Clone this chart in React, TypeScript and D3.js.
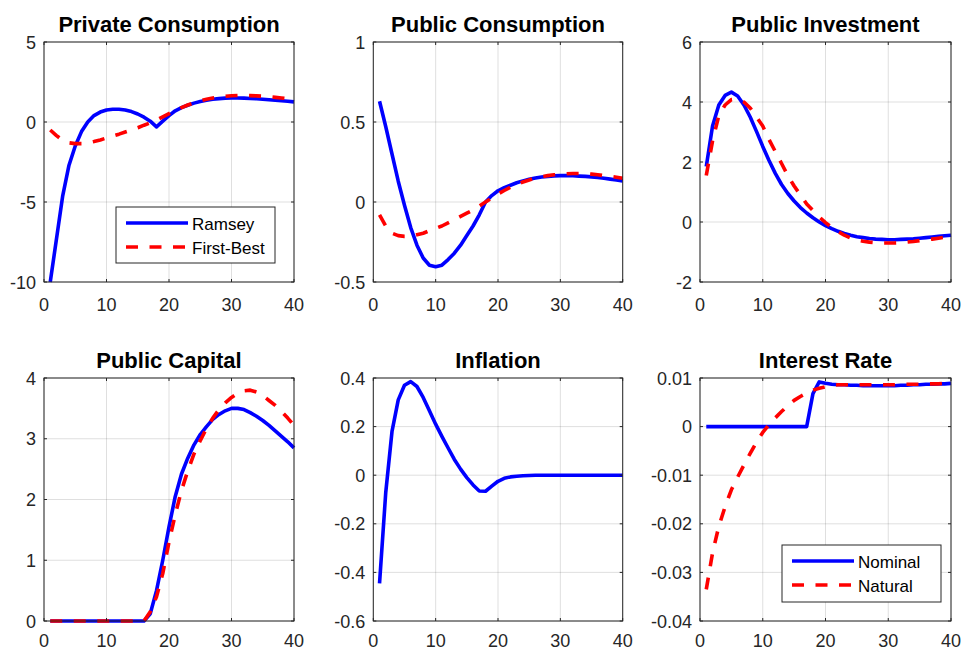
import React from 'react';
import * as d3 from 'd3';

// Horizon (quarters 1..40)
const periods = d3.range(1, 41);

// Private Consumption
const privRamsey = [-10.0, -7.3, -4.6, -2.7, -1.5, -0.6, 0.0, 0.4, 0.62, 0.75, 0.8, 0.8, 0.75, 0.65, 0.5, 0.3, 0.05, -0.3, 0.05, 0.4, 0.7, 0.9, 1.05, 1.18, 1.28, 1.36, 1.42, 1.46, 1.49, 1.5, 1.5, 1.49, 1.47, 1.45, 1.42, 1.39, 1.36, 1.33, 1.3, 1.26];
const privFirstBest = [-0.5, -0.85, -1.15, -1.3, -1.35, -1.35, -1.3, -1.22, -1.12, -1.0, -0.88, -0.76, -0.63, -0.5, -0.36, -0.2, -0.05, 0.12, 0.32, 0.52, 0.72, 0.9, 1.06, 1.2, 1.32, 1.42, 1.5, 1.56, 1.61, 1.64, 1.66, 1.66, 1.65, 1.63, 1.61, 1.58, 1.54, 1.5, 1.46, 1.42];

// Public Consumption
const pubConsRamsey = [0.63, 0.47, 0.3, 0.13, -0.02, -0.16, -0.27, -0.35, -0.395, -0.405, -0.395, -0.36, -0.32, -0.27, -0.21, -0.15, -0.08, 0.0, 0.04, 0.07, 0.09, 0.105, 0.12, 0.132, 0.142, 0.15, 0.156, 0.16, 0.163, 0.165, 0.165, 0.164, 0.162, 0.16, 0.157, 0.153, 0.148, 0.143, 0.138, 0.132];
const pubConsFirstBest = [-0.08, -0.15, -0.195, -0.21, -0.215, -0.215, -0.205, -0.195, -0.18, -0.165, -0.15, -0.13, -0.11, -0.09, -0.07, -0.05, -0.025, 0.0, 0.025, 0.05, 0.072, 0.092, 0.11, 0.125, 0.138, 0.149, 0.158, 0.165, 0.17, 0.174, 0.177, 0.178, 0.178, 0.177, 0.174, 0.17, 0.165, 0.16, 0.155, 0.148];

// Public Investment
const pubInvRamsey = [1.85, 3.2, 3.9, 4.22, 4.33, 4.2, 3.9, 3.5, 3.02, 2.52, 2.05, 1.62, 1.25, 0.95, 0.7, 0.48, 0.3, 0.14, 0.0, -0.12, -0.22, -0.31, -0.38, -0.44, -0.49, -0.52, -0.55, -0.57, -0.58, -0.59, -0.59, -0.58, -0.57, -0.56, -0.54, -0.52, -0.5, -0.48, -0.46, -0.44];
const pubInvFirstBest = [1.55, 2.7, 3.55, 3.9, 4.08, 4.1, 4.0, 3.8, 3.5, 3.2, 2.75, 2.35, 1.95, 1.55, 1.2, 0.9, 0.6, 0.38, 0.17, -0.02, -0.18, -0.32, -0.44, -0.53, -0.6, -0.64, -0.67, -0.69, -0.7, -0.7, -0.7, -0.69, -0.67, -0.65, -0.62, -0.6, -0.57, -0.54, -0.51, -0.48];

// Public Capital
const pubCapRamsey = [0, 0, 0, 0, 0, 0, 0, 0, 0, 0, 0, 0, 0, 0, 0, 0, 0.12, 0.5, 1.0, 1.55, 2.05, 2.42, 2.68, 2.9, 3.07, 3.2, 3.32, 3.4, 3.46, 3.5, 3.5, 3.48, 3.43, 3.37, 3.3, 3.22, 3.13, 3.04, 2.95, 2.85];
const pubCapFirstBest = [0, 0, 0, 0, 0, 0, 0, 0, 0, 0, 0, 0, 0, 0, 0, 0, 0.15, 0.4, 0.78, 1.3, 1.75, 2.15, 2.47, 2.75, 2.97, 3.17, 3.34, 3.48, 3.59, 3.68, 3.75, 3.79, 3.8, 3.77, 3.71, 3.63, 3.55, 3.45, 3.34, 3.22];

// Inflation
const inflation = [-0.445, -0.07, 0.18, 0.31, 0.37, 0.385, 0.365, 0.32, 0.265, 0.21, 0.16, 0.112, 0.065, 0.025, -0.01, -0.04, -0.065, -0.066, -0.045, -0.025, -0.013, -0.007, -0.004, -0.002, -0.001, 0, 0, 0, 0, 0, 0, 0, 0, 0, 0, 0, 0, 0, 0, 0];

// Interest Rate
const rateNominal = [0, 0, 0, 0, 0, 0, 0, 0, 0, 0, 0, 0, 0, 0, 0, 0, 0, 0.0068, 0.0092, 0.0089, 0.0087, 0.0086, 0.0086, 0.0085, 0.0085, 0.0084, 0.0084, 0.0084, 0.0084, 0.0084, 0.0084, 0.0085, 0.0085, 0.0086, 0.0086, 0.0087, 0.0087, 0.0088, 0.0088, 0.0089];
const rateNatural = [-0.0335, -0.026, -0.0205, -0.0165, -0.013, -0.0104, -0.0079, -0.0055, -0.0032, -0.0012, 0.0004, 0.0018, 0.0031, 0.0043, 0.0054, 0.0062, 0.0069, 0.0075, 0.0079, 0.0082, 0.0085, 0.0086, 0.0086, 0.0086, 0.0086, 0.0086, 0.0086, 0.0086, 0.0086, 0.0086, 0.0086, 0.0087, 0.0087, 0.0087, 0.0087, 0.0088, 0.0088, 0.0088, 0.0089, 0.0089];

// Ticks
const xTicks = [0, 10, 20, 30, 40];
const yTicksPrivCons = [-10, -5, 0, 5];
const yTicksPubCons = [-0.5, 0, 0.5, 1];
const yTicksPubInv = [-2, 0, 2, 4, 6];
const yTicksPubCap = [0, 1, 2, 3, 4];
const yTicksInfl = [-0.6, -0.4, -0.2, 0, 0.2, 0.4];
const yTicksRate = [-0.04, -0.03, -0.02, -0.01, 0, 0.01];

const titles = ['Private Consumption', 'Public Consumption', 'Public Investment', 'Public Capital', 'Inflation', 'Interest Rate'];

const BLUE = '#0000ff';
const RED = '#ff0000';
const FONT = '"Liberation Sans", Arial, Helvetica, sans-serif';
const AXIS = '#262626';

type Series = { values: number[]; color: string; dashed: boolean; name?: string };
type Panel = {
  title: string;
  yDomain: [number, number];
  yTicks: number[];
  series: Series[];
  frame: { l: number; t: number; r: number; b: number };
  labelOffset: number;
  legend?: { x: number; y: number; w: number; h: number };
};

const COLS = [[44, 294], [373.3, 622.7], [700, 951]];
const ROWS = [[42, 282], [378, 621]];
const LABEL_OFF = [29, 26];

const panels: Panel[] = [
  { title: titles[0], yDomain: [-10, 5], yTicks: yTicksPrivCons,
    series: [{ values: privRamsey, color: BLUE, dashed: false, name: 'Ramsey' }, { values: privFirstBest, color: RED, dashed: true, name: 'First-Best' }],
    frame: { l: COLS[0][0], r: COLS[0][1], t: ROWS[0][0], b: ROWS[0][1] }, labelOffset: LABEL_OFF[0],
    legend: { x: 72, y: 165, w: 159, h: 56 } },
  { title: titles[1], yDomain: [-0.5, 1], yTicks: yTicksPubCons,
    series: [{ values: pubConsRamsey, color: BLUE, dashed: false }, { values: pubConsFirstBest, color: RED, dashed: true }],
    frame: { l: COLS[1][0], r: COLS[1][1], t: ROWS[0][0], b: ROWS[0][1] }, labelOffset: LABEL_OFF[0] },
  { title: titles[2], yDomain: [-2, 6], yTicks: yTicksPubInv,
    series: [{ values: pubInvRamsey, color: BLUE, dashed: false }, { values: pubInvFirstBest, color: RED, dashed: true }],
    frame: { l: COLS[2][0], r: COLS[2][1], t: ROWS[0][0], b: ROWS[0][1] }, labelOffset: LABEL_OFF[0] },
  { title: titles[3], yDomain: [0, 4], yTicks: yTicksPubCap,
    series: [{ values: pubCapRamsey, color: BLUE, dashed: false }, { values: pubCapFirstBest, color: RED, dashed: true }],
    frame: { l: COLS[0][0], r: COLS[0][1], t: ROWS[1][0], b: ROWS[1][1] }, labelOffset: LABEL_OFF[1] },
  { title: titles[4], yDomain: [-0.6, 0.4], yTicks: yTicksInfl,
    series: [{ values: inflation, color: BLUE, dashed: false }],
    frame: { l: COLS[1][0], r: COLS[1][1], t: ROWS[1][0], b: ROWS[1][1] }, labelOffset: LABEL_OFF[1] },
  { title: titles[5], yDomain: [-0.04, 0.01], yTicks: yTicksRate,
    series: [{ values: rateNominal, color: BLUE, dashed: false, name: 'Nominal' }, { values: rateNatural, color: RED, dashed: true, name: 'Natural' }],
    frame: { l: COLS[2][0], r: COLS[2][1], t: ROWS[1][0], b: ROWS[1][1] }, labelOffset: LABEL_OFF[1],
    legend: { x: 82, y: 167, w: 159, h: 57 } },
];

const LW = 3.6;
const DASH = '12,11.5';

function PanelView({ p }: { p: Panel }) {
  const { l, t, r, b } = p.frame;
  const x = d3.scaleLinear().domain([0, 40]).range([l, r]);
  const y = d3.scaleLinear().domain(p.yDomain).range([b, t]);
  const line = d3.line<number>().x((_, i) => x(periods[i])).y((v) => y(v));
  const tk = 3;
  const fmt = (v: number) => String(v);
  return (
    <g>
      {xTicks.map((v) => (
        <line key={'gx' + v} x1={x(v)} x2={x(v)} y1={t} y2={b} stroke={AXIS} strokeOpacity={0.15} strokeWidth={1} />
      ))}
      {p.yTicks.map((v) => (
        <line key={'gy' + v} x1={l} x2={r} y1={y(v)} y2={y(v)} stroke={AXIS} strokeOpacity={0.15} strokeWidth={1} />
      ))}
      {p.series.map((s, i) => (
        <path key={'s' + i} d={line(s.values) || ''} fill="none" stroke={s.color} strokeWidth={LW}
          strokeDasharray={s.dashed ? DASH : undefined} strokeLinejoin="round" />
      ))}
      <rect x={l} y={t} width={r - l} height={b - t} fill="none" stroke={AXIS} strokeWidth={1} />
      {xTicks.map((v) => (
        <g key={'tx' + v}>
          <line x1={x(v)} x2={x(v)} y1={b} y2={b - tk} stroke={AXIS} />
          <line x1={x(v)} x2={x(v)} y1={t} y2={t + tk} stroke={AXIS} />
          <text x={x(v)} y={b + p.labelOffset} textAnchor="middle" fontSize={18} fill={AXIS} fontFamily={FONT}>{fmt(v)}</text>
        </g>
      ))}
      {p.yTicks.map((v) => (
        <g key={'ty' + v}>
          <line x1={l} x2={l + tk} y1={y(v)} y2={y(v)} stroke={AXIS} />
          <line x1={r} x2={r - tk} y1={y(v)} y2={y(v)} stroke={AXIS} />
          <text x={l - 8} y={y(v) + 6.5} textAnchor="end" fontSize={18} fill={AXIS} fontFamily={FONT}>{fmt(v)}</text>
        </g>
      ))}
      <text x={(l + r) / 2} y={t - 10} textAnchor="middle" fontSize={22} fontWeight="bold" fill="#000" fontFamily={FONT}>{p.title}</text>
      {p.legend && (
        <g transform={`translate(${l + p.legend.x},${t + p.legend.y})`}>
          <rect x={0} y={0} width={p.legend.w} height={p.legend.h} fill="#fff" stroke={AXIS} strokeWidth={1} />
          {p.series.map((s, i) => (
            <g key={'lg' + i} transform={`translate(0,${16 + i * 24})`}>
              <line x1={10} x2={72} y1={0} y2={0} stroke={s.color} strokeWidth={LW} strokeDasharray={s.dashed ? DASH : undefined} />
              <text x={76} y={6.5} fontSize={17} fill="#000" fontFamily={FONT}>{s.name}</text>
            </g>
          ))}
        </g>
      )}
    </g>
  );
}

export default function App() {
  return (
    <svg width={961} height={650} style={{ position: 'absolute', left: 0, top: 0, background: '#fff' }}>
      <rect x={0} y={0} width={961} height={650} fill="#fff" />
      {panels.map((p, i) => <PanelView key={i} p={p} />)}
    </svg>
  );
}
